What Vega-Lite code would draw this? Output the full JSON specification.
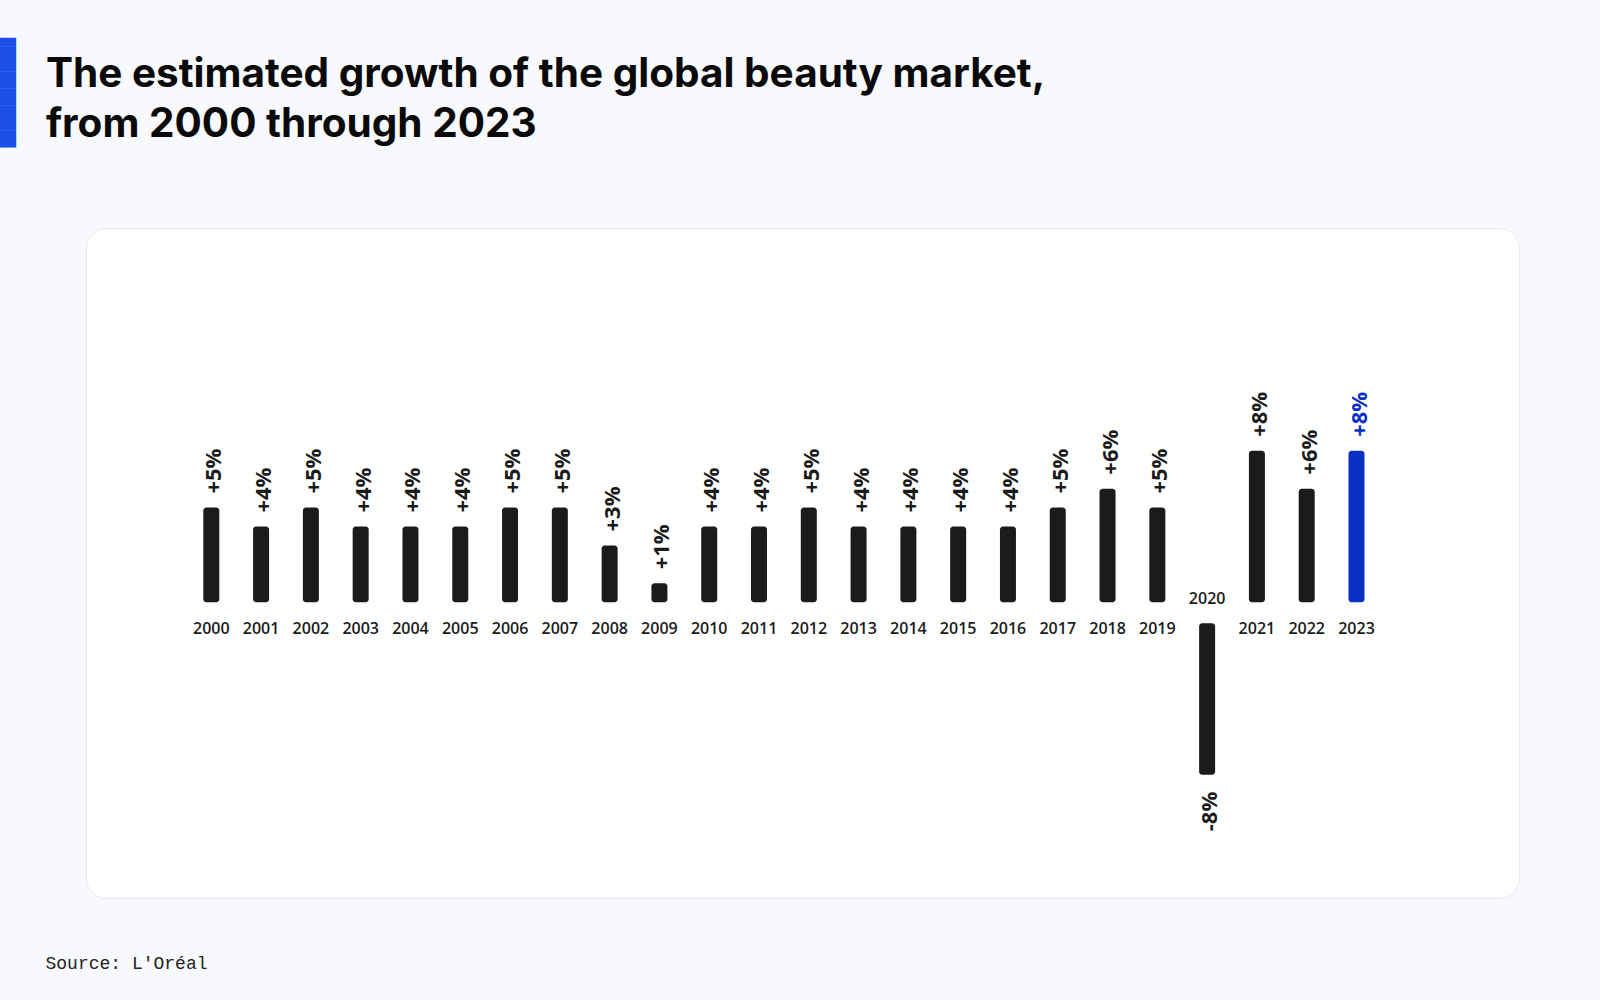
{
  "$schema": "https://vega.github.io/schema/vega-lite/v6.json",
  "width": 1433,
  "height": 670,
  "autosize": {"type": "none"},
  "padding": {"left": 86, "top": 228, "right": 81, "bottom": 102},
  "background": "#f7f9fc",
  "view": {"fill": "#ffffff", "stroke": "#e7e9ef", "strokeWidth": 1, "cornerRadius": 20},
  "title": {
    "text": ["The estimated growth of the global beauty market,", "from 2000 through 2023"],
    "anchor": "start",
    "frame": "group",
    "font": "Inter",
    "fontSize": 40.5,
    "fontWeight": 700,
    "color": "#0a0a0a",
    "lineHeight": 50,
    "offset": -108,
    "dx": -40
  },
  "config": {
    "axis": {"grid": false, "domain": false, "ticks": false, "labels": false}
  },
  "data": {
    "values": [
      {"year": "2000", "value": 5, "label": "+5%"},
      {"year": "2001", "value": 4, "label": "+4%"},
      {"year": "2002", "value": 5, "label": "+5%"},
      {"year": "2003", "value": 4, "label": "+4%"},
      {"year": "2004", "value": 4, "label": "+4%"},
      {"year": "2005", "value": 4, "label": "+4%"},
      {"year": "2006", "value": 5, "label": "+5%"},
      {"year": "2007", "value": 5, "label": "+5%"},
      {"year": "2008", "value": 3, "label": "+3%"},
      {"year": "2009", "value": 1, "label": "+1%"},
      {"year": "2010", "value": 4, "label": "+4%"},
      {"year": "2011", "value": 4, "label": "+4%"},
      {"year": "2012", "value": 5, "label": "+5%"},
      {"year": "2013", "value": 4, "label": "+4%"},
      {"year": "2014", "value": 4, "label": "+4%"},
      {"year": "2015", "value": 4, "label": "+4%"},
      {"year": "2016", "value": 4, "label": "+4%"},
      {"year": "2017", "value": 5, "label": "+5%"},
      {"year": "2018", "value": 6, "label": "+6%"},
      {"year": "2019", "value": 5, "label": "+5%"},
      {"year": "2020", "value": -8, "label": "-8%"},
      {"year": "2021", "value": 8, "label": "+8%"},
      {"year": "2022", "value": 6, "label": "+6%"},
      {"year": "2023", "value": 8, "label": "+8%"}
    ]
  },
  "encoding": {
    "x": {
      "field": "year",
      "type": "ordinal",
      "scale": {"type": "point", "range": [125.3, 1270.5], "padding": 0},
      "axis": {
        "title": "Source: L'Oréal",
        "titleFont": "Liberation Mono",
        "titleFontSize": 18,
        "titleFontWeight": "normal",
        "titleColor": "#222222",
        "titleAlign": "left",
        "titleBaseline": "alphabetic",
        "titleX": -41,
        "titleY": 70
      }
    },
    "color": {
      "condition": {"test": "datum.year == '2023'", "value": "#0a2fc4"},
      "value": "#1b1b1b"
    }
  },
  "layer": [
    {
      "transform": [{"filter": "datum.value >= 0"}],
      "mark": {"type": "bar", "width": 16, "cornerRadius": 3},
      "encoding": {
        "y": {
          "field": "value",
          "type": "quantitative",
          "scale": {"domain": [-15.62, 19.77], "nice": false, "zero": false},
          "axis": {
            "title": "█████████████",
            "titleFont": "DejaVu Sans Mono",
            "titleFontSize": 14,
            "titleFontWeight": "normal",
            "titleColor": "#1c4fe8",
            "titleAngle": 90,
            "titleAlign": "center",
            "titleBaseline": "middle",
            "titleX": -80,
            "titleY": -136
          }
        },
        "y2": {"datum": 0}
      }
    },
    {
      "transform": [{"filter": "datum.value < 0"}],
      "mark": {"type": "bar", "width": 16, "cornerRadius": 3, "yOffset": 21, "y2Offset": 21},
      "encoding": {
        "y": {"field": "value", "type": "quantitative"},
        "y2": {"datum": 0}
      }
    },
    {
      "transform": [{"filter": "datum.value >= 0"}],
      "mark": {"type": "text", "angle": 270, "align": "left", "baseline": "middle", "dx": 14, "dy": 3, "font": "Open Sans", "fontSize": 22, "fontWeight": 700},
      "encoding": {
        "y": {"field": "value", "type": "quantitative"},
        "text": {"field": "label"}
      }
    },
    {
      "transform": [{"filter": "datum.value < 0"}],
      "mark": {"type": "text", "angle": 270, "align": "right", "baseline": "middle", "dx": -17, "dy": 3, "yOffset": 21, "font": "Open Sans", "fontSize": 22, "fontWeight": 700},
      "encoding": {
        "y": {"field": "value", "type": "quantitative"},
        "text": {"field": "label"}
      }
    },
    {
      "transform": [{"filter": "datum.value >= 0"}],
      "mark": {"type": "text", "baseline": "middle", "align": "center", "dy": 27, "font": "Open Sans", "fontSize": 16, "fontWeight": 600},
      "encoding": {
        "y": {"datum": 0},
        "text": {"field": "year"},
        "color": {"value": "#1b1b1b"}
      }
    },
    {
      "transform": [{"filter": "datum.value < 0"}],
      "mark": {"type": "text", "baseline": "middle", "align": "center", "dy": -3, "font": "Open Sans", "fontSize": 16, "fontWeight": 600},
      "encoding": {
        "y": {"datum": 0},
        "text": {"field": "year"},
        "color": {"value": "#1b1b1b"}
      }
    }
  ]
}
